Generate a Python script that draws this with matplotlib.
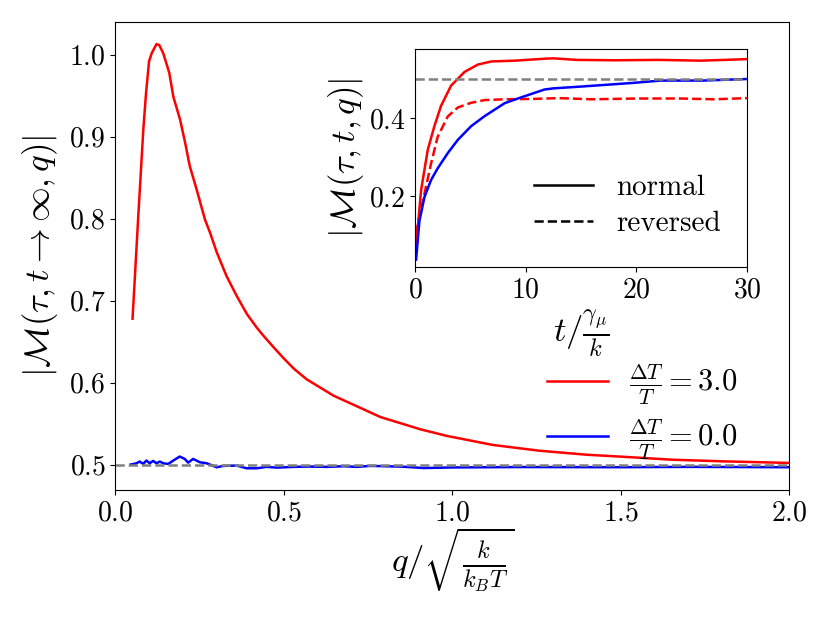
"""
Memory |M| vs q (main) and vs t (inset)
"""

import matplotlib
matplotlib.use("Agg")
import matplotlib.pyplot as plt

# ===============================
# DATA
# ===============================

q_hot = [0.051, 0.068, 0.083, 0.091, 0.100, 0.108, 0.122, 0.130, 0.142, 0.160,
         0.172, 0.192, 0.207, 0.221, 0.241, 0.266, 0.281, 0.301, 0.330, 0.360,
         0.390, 0.420, 0.44, 0.47, 0.499, 0.53, 0.568, 0.648, 0.707, 0.787, 0.906,
         0.984, 1.12, 1.257, 1.4, 1.53, 1.65, 1.80, 2.0]
m_hot = [0.678, 0.803, 0.909, 0.953, 0.992, 1.002, 1.013, 1.012, 1.002, 0.978,
         0.949, 0.921, 0.893, 0.864, 0.836, 0.799, 0.783, 0.759, 0.730, 0.706,
         0.684, 0.667, 0.657, 0.643, 0.630, 0.617, 0.604, 0.584, 0.573, 0.558, 0.543,
         0.535, 0.524, 0.517, 0.512, 0.509, 0.506, 0.504, 0.502]

q_eq = [0.045, 0.0625, 0.0724, 0.0823, 0.0923, 0.102, 0.112, 0.122, 0.132, 0.142,
        0.157, 0.172, 0.191, 0.206, 0.216, 0.231, 0.251, 0.271, 0.301, 0.320,
        0.360, 0.390, 0.420, 0.449, 0.479, 0.529, 0.578, 0.628, 0.678, 0.717,
        0.757, 0.85, 0.916, 1.0, 1.2, 1.5, 1.7, 2.0]
m_eq = [0.5, 0.5016, 0.5037, 0.5008, 0.5049, 0.5016, 0.5045, 0.5016, 0.5037, 0.5016,
        0.5008, 0.5049, 0.5098, 0.5069, 0.5024, 0.5069, 0.5028, 0.5016, 0.4967, 0.4984,
        0.4988, 0.4955, 0.4955, 0.4972, 0.4963, 0.4972, 0.4976, 0.4972, 0.498, 0.4972,
        0.4984, 0.4975, 0.4958, 0.4965, 0.497, 0.4968, 0.4972, 0.4968]

t_norm = [0.1, 0.55, 1.15, 1.75, 2.35, 3.26, 4.47, 5.68, 6.9, 9.0, 11.7, 12.5,
          14.6, 18, 22, 25.8, 28, 30]
m_hot_norm = [0.07, 0.216, 0.319, 0.38, 0.432, 0.484, 0.519, 0.538, 0.546, 0.548,
              0.553, 0.554, 0.550, 0.549, 0.550, 0.548, 0.55, 0.552]

t_rev = [0.1, 0.24, 0.65, 1.45, 2.05, 2.96, 3.87, 5.07, 6.3, 8.1, 10.7, 13, 16,
         20, 24, 27, 30]
m_hot_rev = [0.07, 0.13, 0.18, 0.284, 0.353, 0.405, 0.428, 0.44, 0.447, 0.449,
             0.450, 0.452, 0.449, 0.451, 0.451, 0.449, 0.452]

t_eq = [0.1, 0.4, 0.85, 1.45, 2.05, 2.96, 3.87, 5.07, 6.3, 8.1, 9.6, 11.7, 12.5,
        15.2, 19.7, 22.2, 26, 30]
m_eq_norm = [0.038, 0.137, 0.198, 0.242, 0.272, 0.311, 0.345, 0.38, 0.406, 0.439,
             0.454, 0.474, 0.477, 0.482, 0.491, 0.497, 0.497, 0.501]

# ===============================
# STYLE
# ===============================

plt.rcParams["font.family"] = "serif"
plt.rcParams["font.serif"] = ["cmr10"]
plt.rcParams["mathtext.fontset"] = "cm"
plt.rcParams["axes.formatter.use_mathtext"] = True
plt.rcParams["axes.unicode_minus"] = False
plt.rcParams["font.size"] = 20

LW = 1.8

# ===============================
# PLOT
# ===============================

fig = plt.figure(figsize=(8.3, 6.23), dpi=100)
ax = fig.add_axes([0.139, 0.2135, 0.8116, 0.7512])

ax.plot(q_hot, m_hot, color="red", lw=LW, label=r"$\frac{\Delta T}{T}=3.0$")
ax.plot(q_eq, m_eq, color="blue", lw=LW, label=r"$\frac{\Delta T}{T}=0.0$")
ax.axhline(0.5, color="gray", ls="--", lw=LW)
ax.set_xlim(0, 2.0)
ax.set_ylim(0.469, 1.04)
ax.set_xticks([0.0, 0.5, 1.0, 1.5, 2.0])
ax.set_xlabel(r"$q/\sqrt{\frac{k}{k_BT}}$", fontsize=25, labelpad=0)
ax.set_ylabel(r"$|\mathcal{M}(\tau,t\rightarrow\infty,q)|$", fontsize=25, labelpad=6)
ax.legend(loc="lower right", frameon=False, bbox_to_anchor=(0.965, 0.0),
          fontsize=22, handlelength=2.0, handletextpad=0.7, labelspacing=0.35)

# inset
ins = fig.add_axes([0.5, 0.5714, 0.4, 0.35])
ins.plot(t_norm, m_hot_norm, color="red", lw=LW)
ins.plot(t_rev, m_hot_rev, color="red", lw=LW, ls="--")
ins.plot(t_eq, m_eq_norm, color="blue", lw=LW)
ins.axhline(0.5, color="gray", ls="--", lw=LW)
ins.plot([], [], color="black", lw=LW, label="normal")
ins.plot([], [], color="black", lw=LW, ls="--", label="reversed")
ins.set_xlim(0, 30)
ins.set_ylim(0.019, 0.578)
ins.set_xticks([0, 10, 20, 30])
ins.set_yticks([0.2, 0.4])
ins.set_xlabel(r"$t/\frac{\gamma_\mu}{k}$", fontsize=25)
ins.set_ylabel(r"$|\mathcal{M}(\tau,t,q)|$", fontsize=25, labelpad=2)
ins.legend(loc="lower right", frameon=False, bbox_to_anchor=(1.0, 0.015),
           fontsize=21, handlelength=2.0, handletextpad=0.8, labelspacing=0.35)

fig.savefig("out.png", dpi=100)
